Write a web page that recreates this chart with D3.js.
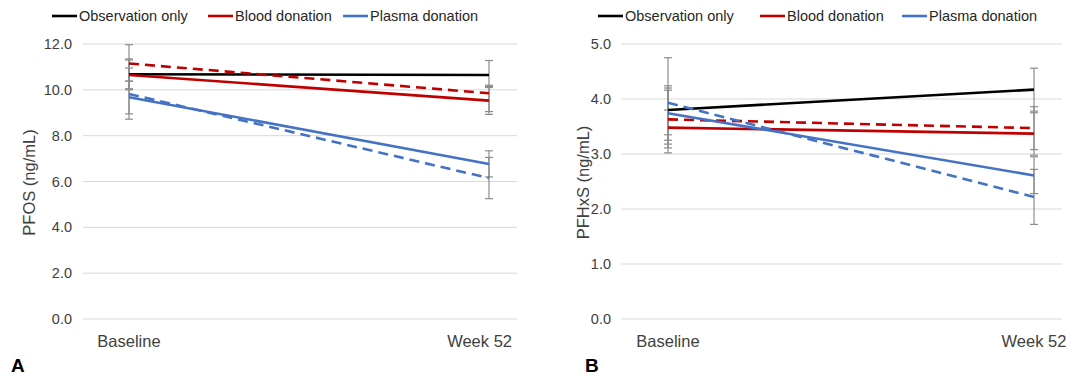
<!DOCTYPE html>
<meta charset="utf-8">
<script src="https://d3js.org/d3.v7.min.js"></script>
<style>
  body { margin: 0; background: #fff; }
  text { font-family: "Liberation Sans", Arial, sans-serif; fill: #404040; }
</style>
<div id="chart"></div>
<script>

// categories and legend
var categories = ["Baseline", "Week 52"]
var legendLabels = ["Observation only", "Blood donation", "Plasma donation"]
var legendColors = ["#000000", "#c00000", "#4472c4"]

// series order: observation, blood (solid), blood (dashed), plasma (solid), plasma (dashed)
var seriesColors = ["#000000", "#c00000", "#c00000", "#4472c4", "#4472c4"]
var seriesDashed = [false, false, true, false, true]

// PFOS (ng/mL) means
var pfosObs = [10.68, 10.65]
var pfosBlood = [10.65, 9.53]
var pfosBloodDash = [11.15, 9.85]
var pfosPlasma = [9.68, 6.76]
var pfosPlasmaDash = [9.82, 6.15]
// PFOS error bar lows / highs
var pfosLow = [[10.05, 10.10], [10.00, 8.93], [10.38, 9.05], [8.95, 6.20], [8.72, 5.25]]
var pfosHigh = [[11.35, 11.28], [11.30, 10.15], [11.97, 10.20], [10.38, 7.34], [10.95, 7.05]]

// PFHxS (ng/mL) means
var pfhxsObs = [3.80, 4.17]
var pfhxsBlood = [3.48, 3.37]
var pfhxsBloodDash = [3.63, 3.47]
var pfhxsPlasma = [3.74, 2.61]
var pfhxsPlasmaDash = [3.93, 2.22]
var pfhxsLow = [[3.35, 3.78], [3.18, 2.98], [3.02, 3.08], [3.25, 2.28], [3.11, 1.72]]
var pfhxsHigh = [[4.24, 4.56], [3.80, 3.75], [4.20, 3.86], [4.16, 2.95], [4.75, 2.72]]

var width = 1073, height = 378

var svg = d3.select("#chart")
  .append("svg")
    .attr("width", width)
    .attr("height", height)

function drawPanel(o) {
  var g = svg.append("g")

  var x = d3.scalePoint().domain(categories).range([o.px0, o.px1])
  var y = d3.scaleLinear().domain([0, o.yMax]).range([319, 44])

  // gridlines + tick labels
  var ticks = d3.range(0, o.yMax + 1e-9, o.yStep)
  g.selectAll(".grid").data(ticks).enter().append("line")
    .attr("x1", o.gx0).attr("x2", o.gx1)
    .attr("y1", function(d) { return y(d) }).attr("y2", function(d) { return y(d) })
    .attr("stroke", "#d9d9d9").attr("stroke-width", 1)
  g.selectAll(".tick").data(ticks).enter().append("text")
    .attr("x", o.tickRight).attr("y", function(d) { return y(d) + 5 })
    .attr("text-anchor", "end").style("font-size", "14.5px")
    .text(d3.format(".1f"))

  // y axis title
  g.append("text")
    .attr("transform", "translate(" + o.titleX + "," + (y(o.yMax / 2) + 1) + ") rotate(-90)")
    .attr("text-anchor", "middle").style("font-size", "16.5px")
    .text(o.title)

  // category labels (kept inside panel)
  g.selectAll(".cat").data(categories).enter().append("text")
    .attr("x", function(d) { return x(d) })
    .attr("y", 347)
    .style("font-size", "16.5px")
    .attr("text-anchor", "middle")
    .text(function(d) { return d })
    .each(function(d) {
      var w = this.getComputedTextLength()
      var cx = Math.min(x(d), o.labelMax - w / 2)
      d3.select(this).attr("x", cx)
    })

  // panel letter
  g.append("text").attr("x", o.letterX).attr("y", 372)
    .style("font-size", "19px").style("font-weight", "bold").style("fill", "#000")
    .text(o.letter)

  // error bars
  o.series.forEach(function(s, i) {
    categories.forEach(function(c, j) {
      var lo = y(o.low[i][j]), hi = y(o.high[i][j]), cx = x(c)
      g.append("line").attr("x1", cx).attr("x2", cx).attr("y1", lo).attr("y2", hi)
        .attr("stroke", "#8c8c8c").attr("stroke-width", 1.2)
      ;[lo, hi].forEach(function(v) {
        g.append("line").attr("x1", cx - 4).attr("x2", cx + 4).attr("y1", v).attr("y2", v)
          .attr("stroke", "#8c8c8c").attr("stroke-width", 1.2)
      })
    })
  })

  // lines
  var line = d3.line()
    .x(function(d, j) { return x(categories[j]) })
    .y(function(d) { return y(d) })
  o.series.forEach(function(s, i) {
    g.append("path").datum(s)
      .attr("d", line)
      .attr("fill", "none")
      .attr("stroke", seriesColors[i])
      .attr("stroke-width", 2.6)
      .attr("stroke-dasharray", seriesDashed[i] ? "10,6" : null)
  })

  // legend
  legendLabels.forEach(function(l, i) {
    var lx = o.legendX[i]
    g.append("line").attr("x1", lx).attr("x2", lx + 25).attr("y1", 16).attr("y2", 16)
      .attr("stroke", legendColors[i]).attr("stroke-width", 2.6)
    g.append("text").attr("x", lx + 27).attr("y", 21)
      .style("font-size", "14.5px").style("fill", "#262626")
      .text(l)
  })
}

drawPanel({
  px0: 129, px1: 489, gx0: 83, gx1: 517, labelMax: 512,
  yMax: 12, yStep: 2, tickRight: 72, titleX: 35,
  title: "PFOS (ng/mL)", letter: "A", letterX: 11,
  series: [pfosObs, pfosBlood, pfosBloodDash, pfosPlasma, pfosPlasmaDash],
  low: pfosLow, high: pfosHigh,
  legendX: [52, 208, 343]
})

drawPanel({
  px0: 668, px1: 1034, gx0: 621, gx1: 1062, labelMax: 1070,
  yMax: 5, yStep: 1, tickRight: 611, titleX: 589,
  title: "PFHxS (ng/mL)", letter: "B", letterX: 585,
  series: [pfhxsObs, pfhxsBlood, pfhxsBloodDash, pfhxsPlasma, pfhxsPlasmaDash],
  low: pfhxsLow, high: pfhxsHigh,
  legendX: [598, 760, 902]
})

</script>
